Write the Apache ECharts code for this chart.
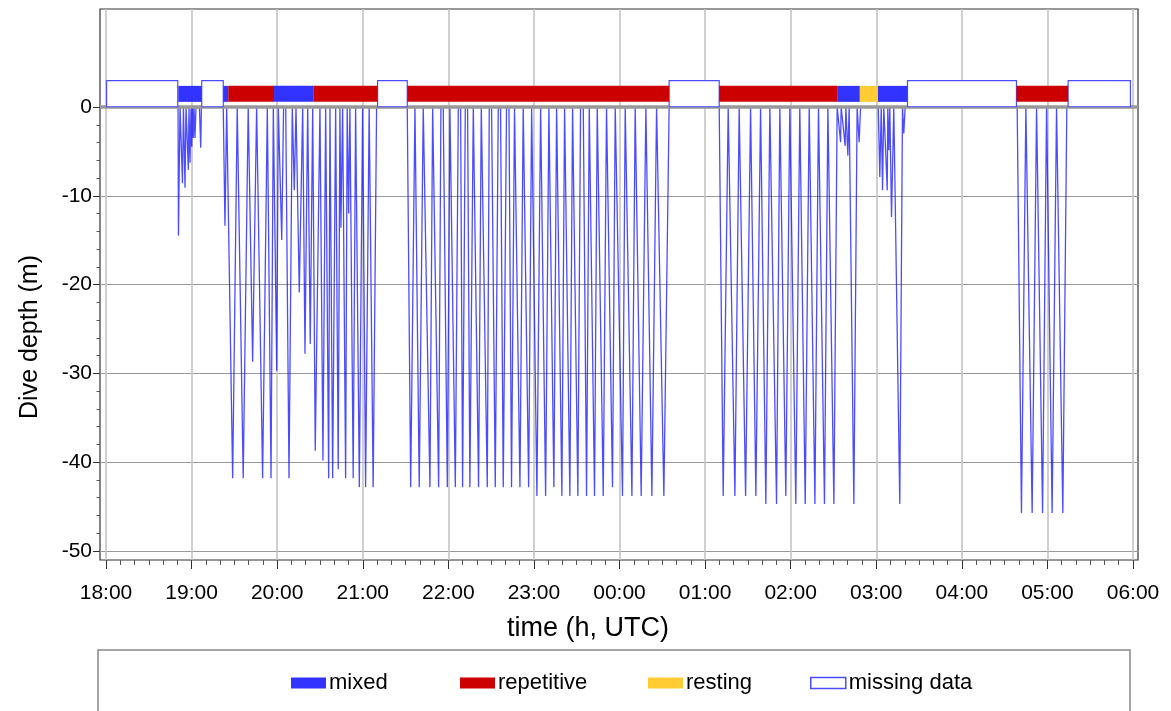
<!DOCTYPE html>
<html>
<head>
<meta charset="utf-8">
<script src="https://cdn.jsdelivr.net/npm/echarts@6/dist/echarts.min.js"></script>
<style>
html,body{margin:0;padding:0;background:#fff;}
#chart{width:1171px;height:711px;}
</style>
</head>
<body>
<div id="chart"></div>
<script>
// ---- data (times in minutes after 18:00 UTC, depth in m) ----
const hourLabels = ['18:00','19:00','20:00','21:00','22:00','23:00','00:00','01:00','02:00','03:00','04:00','05:00','06:00'];
const depthTicks = [-50,-40,-30,-20,-10,0];

// behaviour bouts
const boutState = ['missing data','mixed','missing data','mixed','repetitive','mixed','repetitive','missing data','repetitive','missing data','repetitive','mixed','resting','mixed','missing data','repetitive','missing data'];
const boutStart = [0.4, 50.7, 67.1, 82.2, 85.7, 117.8, 145.3, 190.4, 211.2, 394.8, 429.9, 512.6, 528.5, 541.1, 561.9, 638.3, 674.5];
const boutEnd   = [50.3, 67.1, 82.2, 85.7, 117.8, 145.3, 190.4, 211.2, 394.8, 429.9, 512.6, 528.5, 541.1, 561.9, 638.3, 674.5, 718.2];

// individual dives: surface start, bottom time, surface end, max depth
const diveStart = [
  50.5,52.2,54.3,56.4,58.2,59.6,60.6,61.7,65.5,
  82.2,85.7,92.0,100.4,105.6,113.8,117.3,121.5,126.0,131.3,133.2,137.9,141.4,144.9,150.0,154.0,157.0,161.0,164.0,165.9,169.1,171.0,175.0,179.9,184.5,
  211.2,217.3,223.8,230.4,236.4,242.5,248.6,253.5,258.6,264.5,270.3,276.6,282.5,287.8,293.7,299.5,305.8,311.9,317.3,322.9,328.5,334.6,340.2,345.8,352.3,358.4,365.4,372.4,379.9,387.4,
  429.9,437.4,445.3,453.0,460.3,466.8,473.8,480.8,487.8,494.4,500.9,507.5,
  513.5,516.4,519.2,521.5,527.1,
  541.4,543.5,546.0,548.1,549.5,553.0,558.9,
  638.8,645.8,653.8,660.8,667.8
];
const diveBottom = [
  50.8,53.6,55.4,57.7,58.9,60.1,61.2,62.4,66.4,
  83.4,88.8,96.2,102.8,109.8,115.7,119.7,123.2,128.3,132.0,135.5,139.5,143.2,146.7,152.1,156.1,158.9,162.8,164.7,168.0,170.1,173.3,177.6,182.0,187.3,
  213.6,219.6,227.1,233.2,239.3,244.9,250.0,255.1,261.2,267.3,272.9,278.5,284.3,290.2,296.3,302.1,308.2,314.0,319.6,325.2,330.8,336.9,342.5,348.6,355.1,362.1,368.7,375.2,382.7,391.1,
  432.7,440.9,448.4,455.6,462.6,470.1,476.6,483.6,490.2,497.0,503.7,510.3,
  515.0,518.2,520.1,524.3,528.0,
  542.5,544.4,547.7,548.8,550.7,556.5,559.3,
  641.8,649.3,656.6,663.3,670.8
];
const diveEnd = [
  51.9,54.3,56.1,58.2,59.6,60.6,61.7,63.1,66.9,
  84.6,92.0,99.7,105.6,113.1,117.3,120.8,124.5,130.6,133.2,137.9,141.4,144.9,150.0,154.0,157.0,161.0,164.0,165.9,169.1,171.0,175.0,179.9,184.5,189.7,
  216.6,222.4,229.0,234.8,241.1,247.0,251.9,257.5,263.1,268.7,275.0,280.8,286.4,292.5,298.4,304.7,310.5,315.9,321.5,327.1,332.7,338.8,344.4,350.9,357.0,364.0,371.0,378.5,386.0,394.8,
  436.2,443.9,451.9,458.9,465.4,472.4,479.4,486.4,493.0,499.5,506.1,512.6,
  515.4,518.7,521.0,526.6,529.0,
  543.5,545.3,548.1,549.5,552.3,558.4,560.3,
  644.9,652.4,659.4,666.4,673.6
];
const diveDepth = [
  -14.5,-8.6,-9.1,-7.1,-6.3,-4.5,-3.5,-3.5,-4.6,
  -13.4,-41.8,-41.8,-28.7,-41.8,-41.8,-29.7,-15.0,-41.8,-9.4,-20.9,-27.8,-26.7,-38.7,-39.8,-41.8,-41.8,-40.8,-13.6,-41.8,-12.0,-41.8,-42.8,-42.8,-42.8,
  -42.8,-42.8,-42.8,-42.8,-42.8,-42.8,-42.8,-42.8,-42.8,-42.8,-42.8,-42.8,-42.8,-42.8,-42.8,-43.8,-43.8,-42.8,-43.8,-43.8,-43.8,-43.8,-43.8,-43.8,-42.8,-43.8,-43.8,-43.8,-43.8,-43.8,
  -43.8,-43.8,-43.8,-43.8,-44.7,-44.7,-43.8,-44.7,-44.7,-44.7,-44.7,-44.7,
  -4.0,-4.4,-5.5,-44.7,-4.0,
  -7.9,-9.4,-9.4,-4.9,-12.4,-44.7,-3.0,
  -45.7,-45.7,-45.7,-45.7,-45.7
];

// ---- build ----
const FONT = '"Liberation Sans", Arial, sans-serif';
const stateColor = {mixed:'#3333ff', repetitive:'#cc0000', resting:'#ffcc33', 'missing data':'#ffffff'};

const profile = [];
for (let i = 0; i < diveStart.length; i++) {
  profile.push([diveStart[i], 0], [diveBottom[i], diveDepth[i]], [diveEnd[i], 0]);
}

function boutData(state) {
  const out = [];
  for (let i = 0; i < boutState.length; i++) if (boutState[i] === state) out.push([boutStart[i], boutEnd[i]]);
  return out;
}

function boutSeries(state) {
  const isMissing = state === 'missing data';
  const lo = isMissing ? 0 : 0.55;
  const hi = isMissing ? 2.95 : 2.35;
  return {
    name: state, type: 'custom', xAxisIndex: 1, yAxisIndex: 1, z: 5, clip: false,
    itemStyle: {color: stateColor[state], borderColor: isMissing ? '#4d4dff' : stateColor[state], borderWidth: isMissing ? 1.2 : 0},
    encode: {x: [0, 1]},
    data: boutData(state),
    renderItem: function (params, api) {
      const a = api.coord([api.value(0), hi]);
      const b = api.coord([api.value(1), lo]);
      return {
        type: 'rect',
        shape: {x: a[0], y: a[1], width: b[0] - a[0], height: b[1] - a[1]},
        style: isMissing ? {fill: '#fff', stroke: '#4d4dff', lineWidth: 1.2} : {fill: stateColor[state]}
      };
    }
  };
}

const legendCommon = {
  icon: 'rect', itemWidth: 35, itemHeight: 11, selectedMode: false, top: 671, padding: 0,
  textStyle: {fontFamily: FONT, fontSize: 22, color: '#000', lineHeight: 24, padding: [0, 0, 0, -2]}
};

const option = {
  animation: false,
  backgroundColor: '#fff',
  grid: [
    {left: 100, right: 33, top: 9, bottom: 151, show: true, borderColor: '#333', borderWidth: 1.2, backgroundColor: 'transparent', outerBoundsMode: 'none'},
    {left: 106, right: 38, top: 9, bottom: 151, outerBoundsMode: 'none'},
    {left: 100, right: 33, top: 107, bottom: 160, outerBoundsMode: 'none'}
  ],
  xAxis: [
    {gridIndex: 0, type: 'value', min: 0, max: 1, show: false},
    {gridIndex: 1, type: 'value', min: 0, max: 720, interval: 60, position: 'bottom',
      axisLine: {show: false, onZero: false},
      axisTick: {show: true, length: 9, lineStyle: {color: '#333', width: 1}},
      minorTick: {show: true, splitNumber: 6, length: 5, lineStyle: {color: '#555', width: 1}},
      axisLabel: {show: true, margin: 23, fontFamily: FONT, fontSize: 21, color: '#000',
        formatter: function (v) { return hourLabels[Math.round(v / 60)]; }},
      splitLine: {show: true, lineStyle: {color: '#c4c4c4', width: 1.6}}
    },
    {gridIndex: 2, type: 'value', min: 0, max: 1, show: false}
  ],
  yAxis: [
    {gridIndex: 0, type: 'value', min: -51, max: 11, show: false},
    {gridIndex: 1, type: 'value', min: -51, max: 11, show: false},
    {gridIndex: 2, type: 'value', min: -50, max: 0, interval: 10, position: 'left',
      axisLine: {show: false, onZero: false},
      axisTick: {show: true, length: 7, lineStyle: {color: '#333', width: 1}},
      minorTick: {show: true, splitNumber: 5, length: 3.5, lineStyle: {color: '#555', width: 1}},
      axisLabel: {show: true, margin: 8, fontFamily: FONT, fontSize: 21, color: '#000',
        customValues: depthTicks},
      splitLine: {show: true, lineStyle: {color: '#999', width: 1.2}}
    }
  ],
  legend: [
    Object.assign({left: 291, data: ['mixed']}, legendCommon),
    Object.assign({left: 460, data: ['repetitive']}, legendCommon),
    Object.assign({left: 648, data: ['resting']}, legendCommon),
    Object.assign({left: 810, data: [{name: 'missing data', itemStyle: {color: '#fff', borderColor: '#4d4dff', borderWidth: 1.5}}]}, legendCommon)
  ],
  graphic: [
    {type: 'rect', shape: {x: 98, y: 650, width: 1032, height: 100}, style: {fill: 'none', stroke: '#888', lineWidth: 1.5}, z: 1},
    {type: 'text', x: 588, y: 629, style: {text: 'time (h, UTC)', font: '27px ' + FONT, fill: '#000', textAlign: 'center', textVerticalAlign: 'middle'}},
    {type: 'text', x: 30, y: 337, rotation: Math.PI / 2, style: {text: 'Dive depth (m)', font: '25px ' + FONT, fill: '#000', textAlign: 'center', textVerticalAlign: 'middle'}}
  ],
  series: [
    {name: 'dive', type: 'line', xAxisIndex: 1, yAxisIndex: 1, data: profile, showSymbol: false, symbol: 'none',
      lineStyle: {color: 'rgba(0,0,255,0.7)', width: 1.3}, z: 2, clip: false},
    {name: 'zero', type: 'line', xAxisIndex: 2, yAxisIndex: 2, data: [[0, 0], [1, 0]], showSymbol: false, symbol: 'none',
      lineStyle: {color: '#999', width: 3.5}, z: 3, clip: false},
    boutSeries('missing data'),
    boutSeries('mixed'),
    boutSeries('repetitive'),
    boutSeries('resting')
  ]
};

const chart = echarts.init(document.getElementById('chart'), null, {renderer: 'canvas'});
chart.setOption(option);
</script>
</body>
</html>
